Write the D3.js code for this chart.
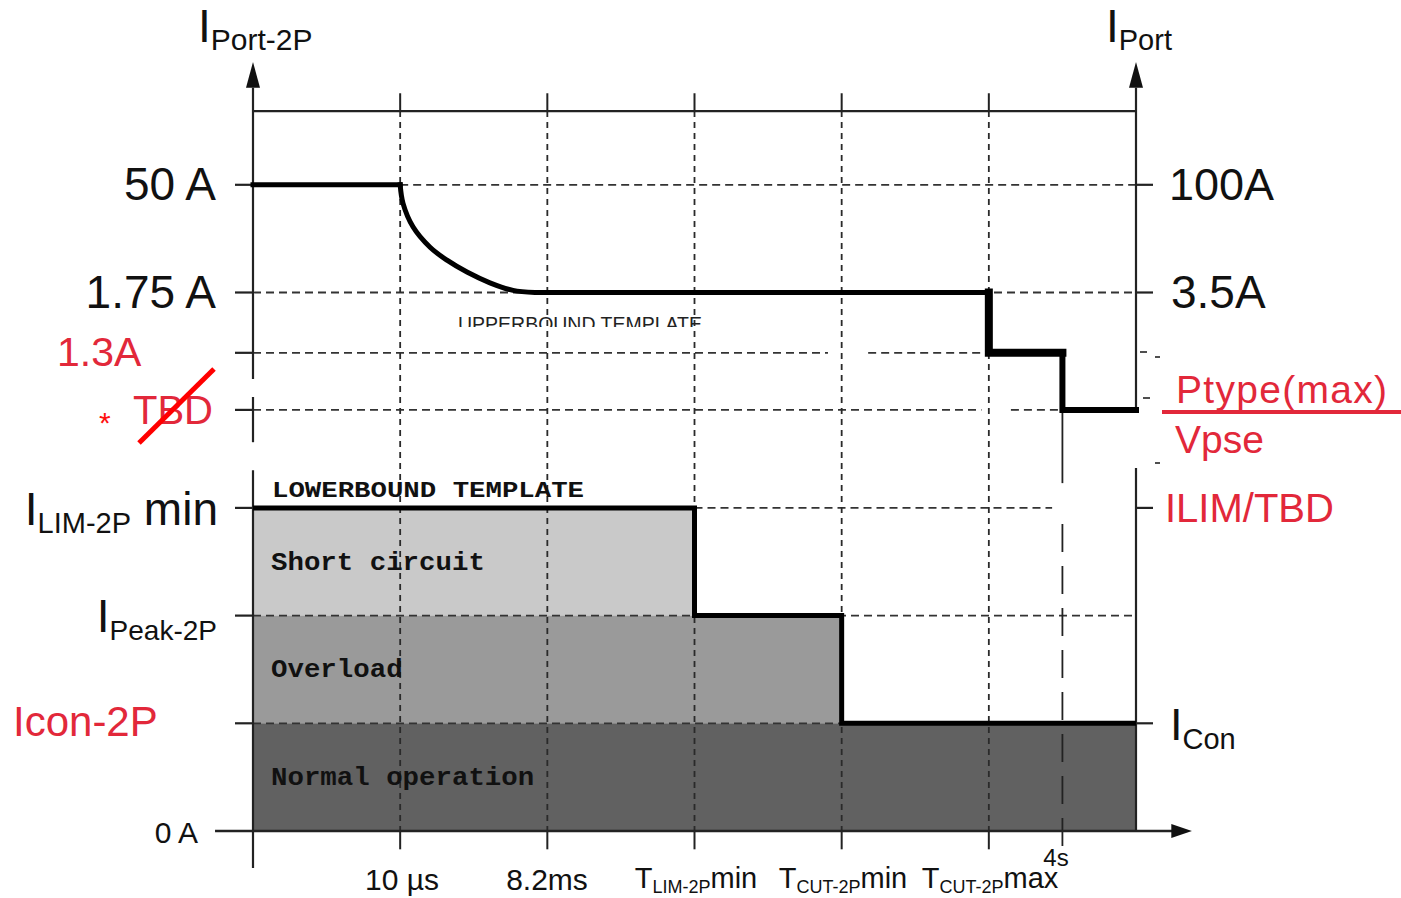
<!DOCTYPE html>
<html><head><meta charset="utf-8">
<script src="https://cdn.jsdelivr.net/npm/d3@7"></script>
<style>body{margin:0;background:#fff}</style>
</head><body><svg id="c" width="1401" height="898"></svg>
<script>
// ---------- data ----------
const timeTicks = [1, 2, 3, 4, 5];
const timeTickLabels = [["10 µs"], ["8.2ms"], ["T", "LIM-2P", "min"], ["T", "CUT-2P", "min"], ["T", "CUT-2P", "max"]];
const fourSecondTick = 5.5;
const fourSecondLabel = "4s";
const currentLevels = [0, 1, 2, 3, 3.91, 4.44, 5, 6];
const leftLevelLabels = ["0 A", "Icon-2P", "IPeak-2P", "ILIM-2P min", "TBD", "1.3A", "1.75 A", "50 A"];
const rightLevelLabels = ["", "ICon", "", "ILIM/TBD", "Ptype(max)/Vpse", "", "3.5A", "100A"];
const upperTemplateX = [0, 1, 1.019, 1.087, 1.203, 1.318, 1.454, 1.61, 1.767, 1.93, 2, 5, 5, 5.5, 5.5, 6];
const upperTemplateY = [6, 6, 5.83, 5.61, 5.42, 5.30, 5.19, 5.09, 5.02, 5.0, 5, 5, 4.44, 4.44, 3.91, 3.91];
const lowerTemplateX = [0, 3, 3, 4, 4, 6];
const lowerTemplateY = [3, 3, 2, 2, 1, 1];
const regionNames = ["Short circuit", "Overload", "Normal operation"];
const regionEnd = [3, 4, 6];
const regionLow = [2, 1, 0];
const regionHigh = [3, 2, 1];

// ---------- setup ----------
const svg = d3.select("#c");
const x = d3.scaleLinear().domain([0, 6]).range([253, 1136]);
const y = d3.scaleLinear().domain([0, 6]).range([831, 184.8]);
const SANS = "'Liberation Sans', Arial, Helvetica, sans-serif";
const MONO = "'Courier New', 'Liberation Mono', monospace";
const RED = "#e2283a";
const TOP = 6.685;

// ---------- regions ----------
const regionFill = ["#c9c9c9", "#9a9a9a", "#616161"];
regionNames.forEach((n, i) => {
  svg.append("rect").attr("x", x(0)).attr("y", y(regionHigh[i]))
    .attr("width", x(regionEnd[i]) - x(0)).attr("height", y(regionLow[i]) - y(regionHigh[i]))
    .attr("fill", regionFill[i]);
});

// ---------- grid ----------
const hd = [[6, 1, 6], [5, 0, 6], [4.44, 0, 3.907], [4.44, 4.18, 5], [3.91, 0, 4.95], [3.91, 5.15, 5.5], [3, 3, 5.43], [2, 0, 6], [1, 0, 4]];
hd.forEach(([lv, a, b]) => {
  svg.append("line").attr("x1", x(a)).attr("x2", x(b)).attr("y1", y(lv)).attr("y2", y(lv))
    .attr("stroke", "#333").attr("stroke-width", 1.8).attr("stroke-dasharray", "8,5");
});
timeTicks.forEach(t => {
  svg.append("line").attr("x1", x(t)).attr("x2", x(t)).attr("y1", y(TOP)).attr("y2", y(0))
    .attr("stroke", "#2a2a2a").attr("stroke-width", 1.8).attr("stroke-dasharray", "6,5");
  svg.append("line").attr("x1", x(t)).attr("x2", x(t)).attr("y1", y(6.85)).attr("y2", y(TOP))
    .attr("stroke", "#222").attr("stroke-width", 2);
  svg.append("line").attr("x1", x(t)).attr("x2", x(t)).attr("y1", y(0)).attr("y2", y(-0.17))
    .attr("stroke", "#222").attr("stroke-width", 2);
});
// 4 s line
svg.append("line").attr("x1", x(fourSecondTick)).attr("x2", x(fourSecondTick)).attr("y1", y(3.91)).attr("y2", y(3.23))
  .attr("stroke", "#222").attr("stroke-width", 1.8);
svg.append("line").attr("x1", x(fourSecondTick)).attr("x2", x(fourSecondTick)).attr("y1", y(2.85)).attr("y2", y(-0.2))
  .attr("stroke", "#222").attr("stroke-width", 1.8).attr("stroke-dasharray", "28,14");

// ---------- axes ----------
const axc = "#222";
function seg(x1, y1, x2, y2, w) {
  svg.append("line").attr("x1", x1).attr("y1", y1).attr("x2", x2).attr("y2", y2)
    .attr("stroke", axc).attr("stroke-width", w || 2);
}
seg(x(0), y(TOP), x(6), y(TOP), 2.2);
[[4.197, 6.9], [3.61, 4.03], [-0.344, 3.35]].forEach(([a, b]) => seg(x(0), y(a), x(0), y(b), 2.2));
[[3.88, 6.9], [0, 3.37]].forEach(([a, b]) => seg(x(6), y(a), x(6), y(b), 2.2));
function upArrow(px) {
  svg.append("path").attr("d", `M${px},${y(7.14)} L${px - 7},${y(6.9)} L${px + 7},${y(6.9)} Z`).attr("fill", "#111");
}
upArrow(x(0)); upArrow(x(6));
seg(x(-0.258), y(0), x(6.25), y(0), 2.4);
svg.append("path").attr("d", `M${x(6.38)},${y(0)} L${x(6.24)},${y(0) - 7} L${x(6.24)},${y(0) + 7} Z`).attr("fill", "#111");
currentLevels.forEach(lv => { if (lv > 0) seg(x(0) - 18, y(lv), x(0), y(lv), 2.2); });
[1, 3, 5, 6].forEach(lv => seg(x(6), y(lv), x(6) + 17, y(lv), 2.2));
[[1140, 352, 1147, 352], [1155, 357, 1160, 357], [1143, 398, 1150, 398], [1155, 463, 1160, 463]]
  .forEach(([a, b, c, d]) => seg(a, b, c, d, 1.6));

// ---------- templates ----------
const pts = upperTemplateX.map((v, i) => [v, upperTemplateY[i]]);
const lin = d3.line().x(d => x(d[0])).y(d => y(d[1]));
const cr = d3.line().x(d => x(d[0])).y(d => y(d[1])).curve(d3.curveCatmullRom.alpha(0.5));
function thick(d, w) {
  svg.append("path").attr("d", d).attr("fill", "none").attr("stroke", "#000")
    .attr("stroke-width", w).attr("stroke-linejoin", "miter").attr("stroke-linecap", "square");
}
thick(lin(pts.slice(0, 2)), 5);
thick(cr(pts.slice(1, 11)), 5);
thick(lin(pts.slice(10, 12)), 5);
thick(lin(pts.slice(11, 14)), 8);
thick(lin(pts.slice(13, 16)), 6);
const lpts = lowerTemplateX.map((v, i) => [v, lowerTemplateY[i]]);
svg.append("path").attr("d", lin(lpts)).attr("fill", "none").attr("stroke", "#000").attr("stroke-width", 5);

svg.append("text").attr("x", 272).attr("y", 497).attr("font-family", MONO).attr("font-weight", "bold")
  .attr("font-size", 22).attr("textLength", 312).attr("lengthAdjust", "spacingAndGlyphs").attr("fill", "#111").text("LOWERBOUND TEMPLATE");
svg.append("defs").append("clipPath").attr("id", "ub").append("rect").attr("x", 440).attr("y", 300).attr("width", 300).attr("height", 27);
svg.append("text").attr("x", 458).attr("y", 331).attr("font-family", SANS).attr("font-size", 21)
  .attr("textLength", 244).attr("lengthAdjust", "spacingAndGlyphs").attr("fill", "#222")
  .attr("clip-path", "url(#ub)").text("UPPERBOUND TEMPLATE");
const regionBase = [570, 677, 785];
regionNames.forEach((n, i) => {
  svg.append("text").attr("x", 271).attr("y", regionBase[i]).attr("font-family", MONO).attr("font-weight", "bold")
    .attr("font-size", 26).attr("textLength", n.length * 16.45).attr("lengthAdjust", "spacingAndGlyphs")
    .attr("fill", "#111").text(n);
});

// ---------- labels ----------
function label(px, py, parts, opts) {
  opts = opts || {};
  const t = svg.append("text").attr("x", px).attr("y", py).attr("font-family", SANS)
    .attr("fill", opts.color || "#111").attr("text-anchor", opts.anchor || "start");
  parts.forEach(p => {
    const s = t.append("tspan").attr("font-size", p.size).text(p.text);
    if (p.dy) s.attr("dy", p.dy);
  });
  return t;
}
label(198, 42, [{ text: "I", size: 46 }, { text: "Port-2P", size: 30, dy: 8 }]);
label(1106, 42, [{ text: "I", size: 46 }, { text: "Port", size: 29, dy: 8 }]);

label(216, 200, [{ text: leftLevelLabels[7], size: 46 }], { anchor: "end" });
label(216, 308, [{ text: leftLevelLabels[6], size: 46 }], { anchor: "end" });
label(57, 366, [{ text: leftLevelLabels[5], size: 41 }], { color: RED });
label(99, 433, [{ text: "*", size: 30 }], { color: "#ff1010" });
label(133, 424, [{ text: leftLevelLabels[4], size: 40 }], { color: RED });
svg.append("line").attr("x1", 139).attr("y1", 443).attr("x2", 214).attr("y2", 369)
  .attr("stroke", "#ff0000").attr("stroke-width", 5);
label(218, 525, [{ text: "I", size: 46 }, { text: "LIM-2P", size: 29, dy: 8 }, { text: " min", size: 46, dy: -8 }], { anchor: "end" });
label(217, 632, [{ text: "I", size: 46 }, { text: "Peak-2P", size: 28, dy: 8 }], { anchor: "end" });
label(13, 736, [{ text: leftLevelLabels[1], size: 42 }], { color: RED });
label(198, 843, [{ text: leftLevelLabels[0], size: 30 }], { anchor: "end" });

label(1169, 200, [{ text: rightLevelLabels[7], size: 45 }]);
label(1171, 308, [{ text: rightLevelLabels[6], size: 46 }]);
label(1176, 403, [{ text: "Ptype(max)", size: 39 }], { color: RED }).attr("textLength", 211);
svg.append("line").attr("x1", 1162).attr("x2", 1401).attr("y1", 412).attr("y2", 412)
  .attr("stroke", RED).attr("stroke-width", 4);
label(1175, 453, [{ text: "Vpse", size: 39 }], { color: RED });
label(1165, 522, [{ text: rightLevelLabels[3], size: 40 }], { color: RED });
label(1170, 740, [{ text: "I", size: 45 }, { text: "Con", size: 29, dy: 9 }]);

const tlx = [402, 547, 696, 843, 990];
timeTickLabels.forEach((p, i) => {
  if (p.length === 1) {
    label(tlx[i], 890, [{ text: p[0], size: 30 }], { anchor: "middle" });
  } else {
    label(tlx[i], 888, [{ text: p[0], size: 29 }, { text: p[1], size: 18, dy: 5 }, { text: p[2], size: 29, dy: -5 }], { anchor: "middle" });
  }
});
label(1056, 866, [{ text: fourSecondLabel, size: 24 }], { anchor: "middle" });
</script></body></html>
